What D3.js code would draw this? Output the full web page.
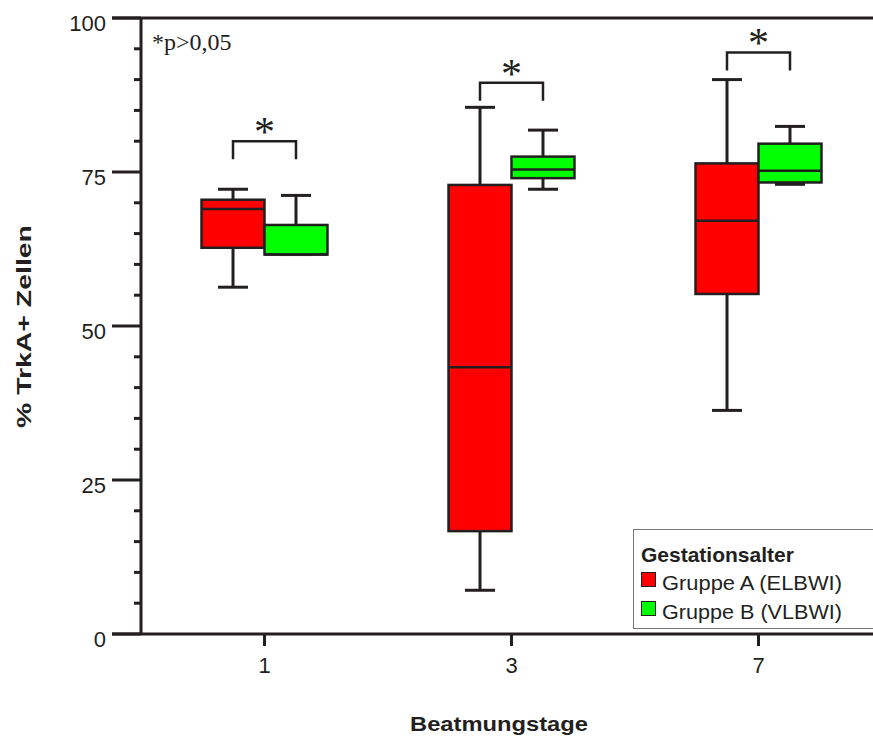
<!DOCTYPE html>
<html><head><meta charset="utf-8">
<script src="https://cdn.jsdelivr.net/npm/d3@7"></script>
<style>body{margin:0;background:#fff}svg{display:block}</style>
</head><body>
<script>
const days = ["1", "3", "7"];
const groups = ["Gruppe A (ELBWI)", "Gruppe B (VLBWI)"];
const colors = ["#ff0000", "#00ff00"];
// [min, q1, median, q3, max] per day
const groupA = [[56.3, 62.7, 69.0, 70.5, 72.2], [7.1, 16.7, 43.3, 72.9, 85.5], [36.3, 55.2, 67.1, 76.4, 90.0]];
const groupB = [[61.6, 61.6, 61.6, 66.4, 71.2], [72.2, 74.0, 75.4, 77.5, 81.8], [73.0, 73.3, 75.2, 79.6, 82.4]];
const bracketLevels = [80.0, 89.5, 94.4];
const yTicks = [0, 25, 50, 75, 100];
const yMinor = d3.range(0, 101, 5);

const W = 873, H = 743;
const svg = d3.select("body").append("svg").attr("width", W).attr("height", H);
const x = d3.scaleBand().domain(days).range([141, 882]).padding(0);
const y = d3.scaleLinear().domain([0, 100]).range([634, 18]);
const bw = x.bandwidth() * 0.255;
const ink = "#231f20";
const sans = "'Liberation Sans', Arial, sans-serif";
const serif = "'Liberation Serif', 'Times New Roman', serif";

// frame lines at 0 and 100
[0, 100].forEach(v => {
  svg.append("line").attr("x1", 112).attr("x2", W).attr("y1", y(v)).attr("y2", y(v))
    .attr("stroke", ink).attr("stroke-width", 3);
});
// y axis
svg.append("line").attr("x1", 141).attr("x2", 141).attr("y1", y(100)).attr("y2", y(0))
  .attr("stroke", ink).attr("stroke-width", 3);
yMinor.forEach(v => {
  const major = yTicks.includes(v);
  svg.append("line").attr("x1", major ? 112 : 134).attr("x2", 141).attr("y1", y(v)).attr("y2", y(v))
    .attr("stroke", ink).attr("stroke-width", 3);
});
yTicks.forEach(v => {
  svg.append("text").attr("x", 106).attr("y", y(v) + 13).attr("text-anchor", "end")
    .attr("font-family", sans).attr("font-size", 22).attr("fill", ink).text(v);
});
// x ticks
days.forEach(d => {
  const cx = x(d) + x.bandwidth() / 2;
  svg.append("line").attr("x1", cx).attr("x2", cx).attr("y1", y(0)).attr("y2", y(0) + 12)
    .attr("stroke", ink).attr("stroke-width", 3);
  svg.append("text").attr("x", cx).attr("y", 673).attr("text-anchor", "middle")
    .attr("font-family", sans).attr("font-size", 22).attr("fill", ink).text(d);
});

// boxes
function drawBox(stats, x0, color) {
  const [mn, q1, md, q3, mx] = stats;
  const cx = x0 + bw / 2;
  const g = svg.append("g");
  g.append("line").attr("x1", cx).attr("x2", cx).attr("y1", y(mx)).attr("y2", y(q3)).attr("stroke", ink).attr("stroke-width", 3);
  g.append("line").attr("x1", cx).attr("x2", cx).attr("y1", y(q1)).attr("y2", y(mn)).attr("stroke", ink).attr("stroke-width", 3);
  g.append("line").attr("x1", cx - 15).attr("x2", cx + 15).attr("y1", y(mx)).attr("y2", y(mx)).attr("stroke", ink).attr("stroke-width", 3);
  g.append("line").attr("x1", cx - 15).attr("x2", cx + 15).attr("y1", y(mn)).attr("y2", y(mn)).attr("stroke", ink).attr("stroke-width", 3);
  g.append("rect").attr("x", x0).attr("y", y(q3)).attr("width", bw).attr("height", y(q1) - y(q3))
    .attr("fill", color).attr("stroke", ink).attr("stroke-width", 2.5);
  g.append("line").attr("x1", x0).attr("x2", x0 + bw).attr("y1", y(md)).attr("y2", y(md)).attr("stroke", ink).attr("stroke-width", 2.5);
}
days.forEach((d, i) => {
  const c = x(d) + x.bandwidth() / 2;
  drawBox(groupA[i], c - bw, colors[0]);
  drawBox(groupB[i], c, colors[1]);
  // bracket
  const xa = c - bw / 2, xb = c + bw / 2, yt = y(bracketLevels[i]);
  svg.append("path").attr("d", `M${xa},${yt + 18}V${yt}H${xb}V${yt + 18}`)
    .attr("fill", "none").attr("stroke", ink).attr("stroke-width", 2.5);
  svg.append("text").attr("x", c).attr("y", yt + 5).attr("text-anchor", "middle")
    .attr("font-family", serif).attr("font-size", 42).attr("fill", ink).text("*");
});

// annotation
svg.append("text").attr("x", 152).attr("y", 50).attr("font-family", serif).attr("font-size", 24)
  .attr("fill", ink).text("*p>0,05");

// axis titles
svg.append("text").attr("transform", "translate(31,326.5) rotate(-90)").attr("text-anchor", "middle")
  .attr("font-family", sans).attr("font-size", 21).attr("font-weight", "bold").attr("fill", ink)
  .attr("textLength", 203).attr("lengthAdjust", "spacingAndGlyphs")
  .text("% TrkA+ Zellen");
svg.append("text").attr("x", 499).attr("y", 731).attr("text-anchor", "middle")
  .attr("font-family", sans).attr("font-size", 21).attr("font-weight", "bold").attr("fill", ink)
  .attr("textLength", 178).attr("lengthAdjust", "spacingAndGlyphs")
  .text("Beatmungstage");

// legend
const lg = svg.append("g");
lg.append("rect").attr("x", 633.5).attr("y", 529.5).attr("width", 260).attr("height", 99)
  .attr("fill", "#fff").attr("stroke", "#777").attr("stroke-width", 1);
lg.append("text").attr("x", 641).attr("y", 562).attr("font-family", sans).attr("font-size", 21)
  .attr("font-weight", "bold").attr("fill", ink).text("Gestationsalter");
groups.forEach((gname, i) => {
  const yy = 572 + i * 29;
  lg.append("rect").attr("x", 641.5).attr("y", yy + 0.5).attr("width", 14).attr("height", 14)
    .attr("fill", colors[i]).attr("stroke", ink).attr("stroke-width", 1);
  lg.append("text").attr("x", 662).attr("y", yy + 18).attr("font-family", sans).attr("font-size", 21)
    .attr("fill", ink).attr("textLength", 180).attr("lengthAdjust", "spacingAndGlyphs").text(gname);
});
</script>
</body></html>
